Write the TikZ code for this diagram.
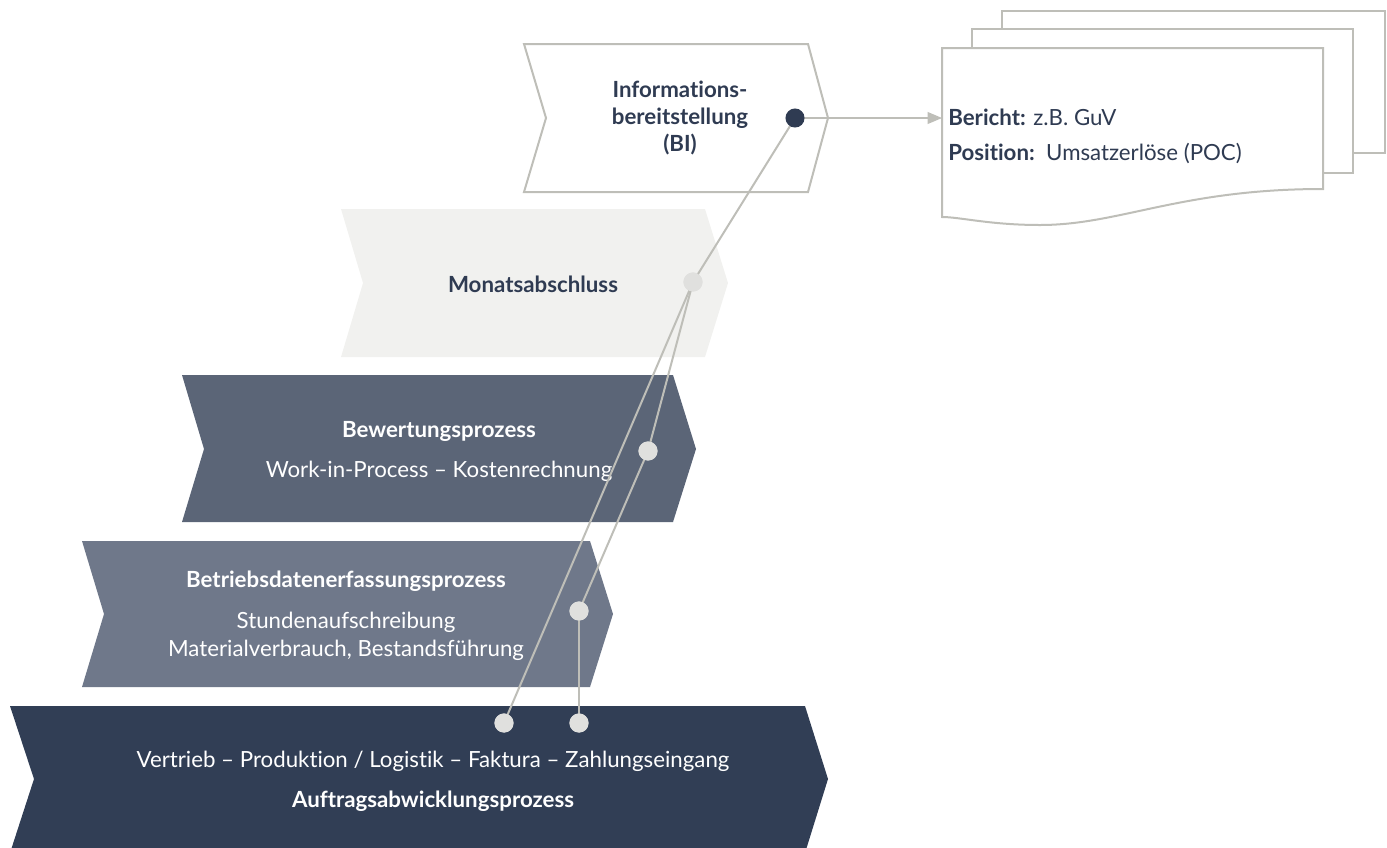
\documentclass[tikz,border=0pt]{standalone}
\usepackage{fontspec}
\setmainfont{Lato}[Ligatures={NoCommon}]
\usetikzlibrary{arrows}
\definecolor{lineGray}{HTML}{BEBEB8}
\definecolor{dotGray}{HTML}{E0E0DE}
\definecolor{monatFill}{HTML}{F1F1EF}
\definecolor{bewFill}{HTML}{5B6577}
\definecolor{bdeFill}{HTML}{6F788A}
\definecolor{auftragFill}{HTML}{313E55}
\definecolor{darkText}{HTML}{2F3B52}
\tikzset{
	lbl/.style={font=\fontsize{16.7}{21}\selectfont, align=center, inner sep=0pt},
	boldlbl/.style={lbl, font=\fontsize{16.7}{20.6}\selectfont\bfseries},
	dot/.style={circle, inner sep=0pt, minimum size=14.3pt, fill=dotGray},
	link/.style={draw=lineGray, line width=1.5pt},
	sheet/.style={draw=lineGray, line width=1.5pt, fill=white},
}
\begin{document}
\begin{tikzpicture}[>=latex, x=0.75pt, y=-0.75pt]
		\useasboundingbox (0,0) rectangle (1387,847);
		\clip (0,0) rectangle (1387,847);
		%				\draw [help lines] (0,0) grid (1387,847);
		% chevrons
		\draw [lineGray, line width=1.5pt, fill=white] (524,44) -- (808,44) -- (828,118) -- (808,192) -- (524,192) -- (546,118) -- cycle;
		\fill [monatFill] (341,209) -- (705,209) -- (728,283) -- (705,357) -- (341,357) -- (363,283) -- cycle;
		\fill [bewFill] (182,375) -- (673,375) -- (696,449) -- (673,522) -- (182,522) -- (204,449) -- cycle;
		\fill [bdeFill] (82,541) -- (590,541) -- (613,614) -- (590,687) -- (82,687) -- (104,614) -- cycle;
		\fill [auftragFill] (10,706) -- (805,706) -- (828,779) -- (805,853) -- (10,853) -- (34,779) -- cycle;
		% texts
		\node [boldlbl, text=darkText] (bi) at (680,118) {Informations-\\bereitstellung\\(BI)};
		\node [boldlbl, text=darkText] (monat) at (533,284) {Monatsabschluss};
		\node [boldlbl, text=white] (bew) at (439,431) {Bewertungsprozess};
		\node [lbl, text=white] (bewsub) at (439,471) {Work-in-Process -- Kostenrechnung};
		\node [boldlbl, text=white] (bde) at (346,581) {Betriebsdatenerfassungsprozess};
		\node [lbl, text=white] (bdesub) at (346,636) {Stundenaufschreibung\\Materialverbrauch, Bestandsführung};
		\node [lbl, text=white] (auftragsub) at (433,761) {Vertrieb -- Produktion / Logistik -- Faktura -- Zahlungseingang};
		\node [boldlbl, text=white] (auftrag) at (433,801) {Auftragsabwicklungsprozess};
		% report sheets
		\draw [sheet] (1002,11) rectangle (1385,153);
		\draw [sheet] (972,29) rectangle (1353,173);
		\draw [sheet] (942,48) -- (1323,48) -- (1323,189) .. controls (1180,189) and (1120,225) .. (1040,225) .. controls (990,225) and (960,217) .. (942,217) -- cycle;
		\node [lbl, text=darkText, anchor=west] (bericht) at (948,117) {\textbf{Bericht:} z.B. GuV};
		\node [lbl, text=darkText, anchor=west] (position) at (948,153) {\textbf{Position:}\ \ Umsatzerlöse (POC)};
		\coordinate (sheetin) at (942,118);
		% connectors
		\node [dot] (d2) at (693,282) {};
		\node [dot] (d3) at (648,451) {};
		\node [dot] (d4) at (579,611) {};
		\node [dot] (d5) at (504,723) {};
		\node [dot] (d6) at (579,723) {};
		\draw [link] (795,118) coordinate (d1) -- (d2.center);
		\draw [link] (d2.center) -- (d3.center);
		\draw [link] (d2.center) -- (d5.center);
		\draw [link] (d3.center) -- (d4.center);
		\draw [link] (d4.center) -- (d6.center);
		\draw [link, ->, >=triangle 45] (d1) -- (sheetin);
		\node [dot] at (d2) {};
		\node [dot] at (d3) {};
		\node [dot] at (d4) {};
		\node [dot] at (d5) {};
		\node [dot] at (d6) {};
		\node [dot, fill=darkText] (bidot) at (d1) {};
	\end{tikzpicture}
\end{document}
